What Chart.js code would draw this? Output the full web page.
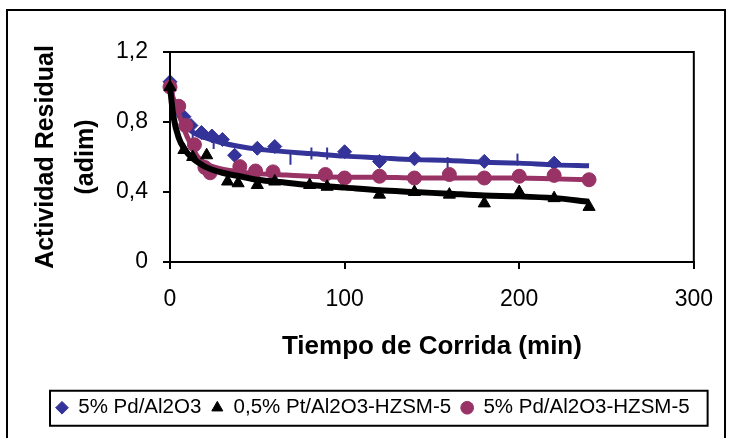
<!DOCTYPE html>
<html>
<head>
<meta charset="utf-8">
<script src="https://cdn.jsdelivr.net/npm/chart.js@4"></script>
<style>
  html, body { margin: 0; padding: 0; background: #fff; }
  canvas { display: block; }
</style>
</head>
<body>
<canvas id="chart" width="730" height="438"></canvas>
<script>
// Measured points (time in min, residual activity)
const blueTime = [0, 8, 12, 18, 24, 30, 37, 50, 60, 100, 120, 140, 180, 220];
const blueAct = [1.03, 0.83, 0.78, 0.74, 0.72, 0.70, 0.61, 0.65, 0.66, 0.63, 0.575, 0.59, 0.575, 0.565];

const blackTime = [0, 8, 13, 21, 33, 39, 50, 60, 80, 90, 120, 140, 160, 180, 200, 220, 240];
const blackAct = [1.0, 0.64, 0.60, 0.61, 0.46, 0.45, 0.44, 0.46, 0.44, 0.43, 0.385, 0.40, 0.385, 0.335, 0.40, 0.365, 0.315];

const maroonTime = [0, 5, 9, 14, 20, 23, 40, 49, 59, 89, 100, 120, 140, 160, 180, 200, 220, 240];
const maroonAct = [1.0, 0.89, 0.78, 0.67, 0.54, 0.51, 0.545, 0.52, 0.515, 0.50, 0.48, 0.49, 0.48, 0.50, 0.48, 0.49, 0.495, 0.47];

// Fitted curves
const fitTime = [0, 2, 5, 8, 12, 16, 20, 30, 40, 50, 60, 80, 100, 120, 140, 160, 180, 200, 220, 240];
const blueFit = [1.02, 0.92, 0.84, 0.79, 0.75, 0.725, 0.71, 0.68, 0.66, 0.645, 0.635, 0.62, 0.605, 0.595, 0.585, 0.58, 0.57, 0.565, 0.555, 0.55];
const blackFit = [1.0, 0.83, 0.71, 0.65, 0.60, 0.57, 0.545, 0.51, 0.49, 0.47, 0.46, 0.44, 0.425, 0.41, 0.40, 0.39, 0.38, 0.375, 0.365, 0.345];
const maroonFit = [1.0, 0.93, 0.85, 0.76, 0.67, 0.60, 0.565, 0.53, 0.515, 0.505, 0.50, 0.49, 0.485, 0.485, 0.48, 0.48, 0.48, 0.48, 0.475, 0.47];

// small vertical marks on the blue curve
const blueBarTime = [13, 25, 69, 81, 90, 159, 199];
const blueBarAct = [0.73, 0.68, 0.59, 0.62, 0.62, 0.565, 0.585];

const xTicks = [0, 100, 200, 300];
const yTicks = [0, 0.4, 0.8, 1.2];

const BLUE = '#333399';
const MAROON = '#993366';
const BLACK = '#000000';
const LEGEND_FONT = 20.5;

const pts = (xs, ys) => xs.map((x, i) => ({ x: x, y: ys[i] }));

Chart.defaults.font.family = "'Liberation Sans', Arial, sans-serif";
Chart.defaults.color = '#000';

const framePlugin = {
    id: 'frame',
    beforeDraw(chart) {
        const ctx = chart.ctx;
        ctx.save();
        ctx.fillStyle = '#fff';
        ctx.fillRect(0, 0, chart.width, chart.height);
        ctx.strokeStyle = '#000';
        ctx.lineWidth = 2;
        ctx.strokeRect(7, 10, 718, 440);
        ctx.restore();

        // move legend so it starts where the reference one does
        const lg = chart.legend;
        if (lg && lg.lineWidths) {
            const pad = lg.options.labels.padding;
            const lw = lg.lineWidths[0];
            const sx = (lg.left + pad + lg.right - lw) / 2;
            const dx = 56 - sx;
            lg.left += dx;
            lg.right += dx;
        }
    },
    afterDraw(chart) {
        const ctx = chart.ctx;
        const a = chart.chartArea;
        ctx.save();
        ctx.strokeStyle = '#000';
        ctx.lineWidth = 2;
        ctx.strokeRect(a.left, a.top, a.right - a.left, a.bottom - a.top);

        const lg = chart.legend;
        if (lg && lg.lineWidths) {
            const pad = lg.options.labels.padding;
            const lw = lg.lineWidths[0];
            const sx = (lg.left + pad + lg.right - lw) / 2;
            const cy = lg.top + pad + LEGEND_FONT / 2;
            ctx.strokeRect(sx - 6, cy - 17, lw - pad + 24, 35);
        }
        ctx.restore();
    }
};

new Chart(document.getElementById('chart'), {
    type: 'line',
    data: {
        datasets: [{
            label: '5% Pd/Al2O3',
            data: pts(blueTime, blueAct),
            showLine: false,
            pointStyle: 'rectRot',
            pointRadius: 7,
            backgroundColor: BLUE,
            borderColor: BLUE,
            borderWidth: 1,
            clip: false,
            order: 4
        }, {
            label: '0,5% Pt/Al2O3-HZSM-5',
            data: pts(blackTime, blackAct),
            showLine: false,
            pointStyle: 'triangle',
            pointRadius: 7,
            backgroundColor: BLACK,
            borderColor: BLACK,
            borderWidth: 1,
            clip: false,
            order: 1
        }, {
            label: '5% Pd/Al2O3-HZSM-5',
            data: pts(maroonTime, maroonAct),
            showLine: false,
            pointStyle: 'circle',
            pointRadius: 7,
            backgroundColor: MAROON,
            borderColor: MAROON,
            borderWidth: 1,
            clip: false,
            order: 2
        }, {
            label: 'fit black',
            data: pts(fitTime, blackFit),
            borderColor: BLACK,
            borderWidth: 6,
            pointRadius: 0,
            cubicInterpolationMode: 'monotone',
            clip: false,
            order: 0
        }, {
            label: 'fit maroon',
            data: pts(fitTime, maroonFit),
            borderColor: MAROON,
            borderWidth: 5,
            pointRadius: 0,
            cubicInterpolationMode: 'monotone',
            clip: false,
            order: 3
        }, {
            label: 'fit blue',
            data: pts(fitTime, blueFit),
            borderColor: BLUE,
            borderWidth: 5,
            pointRadius: 0,
            cubicInterpolationMode: 'monotone',
            clip: false,
            order: 5
        }, {
            label: 'marks blue',
            data: pts(blueBarTime, blueBarAct),
            showLine: false,
            pointStyle: 'line',
            rotation: 90,
            pointRadius: 6,
            borderColor: BLUE,
            borderWidth: 2,
            clip: false,
            order: 6
        }]
    },
    options: {
        responsive: false,
        animation: false,
        devicePixelRatio: 1,
        layout: { padding: { left: 8, right: 33, top: 52, bottom: 10 } },
        plugins: {
            tooltip: { enabled: false },
            legend: {
                position: 'bottom',
                labels: {
                    usePointStyle: true,
                    boxWidth: 12,
                    boxHeight: 9,
                    padding: 10,
                    color: '#000',
                    font: { size: LEGEND_FONT },
                    filter: item => item.datasetIndex < 3,
                    sort: (a, b) => a.datasetIndex - b.datasetIndex
                }
            }
        },
        scales: {
            x: {
                type: 'linear',
                min: xTicks[0],
                max: xTicks[xTicks.length - 1],
                afterBuildTicks: s => { s.ticks = xTicks.map(v => ({ value: v })); },
                afterFit: s => { s.height = 125.5; },
                grid: { drawOnChartArea: false, tickLength: 7, color: '#000', lineWidth: 2 },
                border: { color: '#000', width: 2 },
                ticks: { padding: 17, font: { size: 23 }, color: '#000' },
                title: {
                    display: true,
                    text: 'Tiempo de Corrida (min)',
                    font: { size: 26, weight: 'bold' },
                    color: '#000',
                    padding: { top: 0, bottom: 25.5 }
                }
            },
            y: {
                min: yTicks[0],
                max: yTicks[yTicks.length - 1],
                afterBuildTicks: s => { s.ticks = yTicks.map(v => ({ value: v })); },
                afterFit: s => { s.width = 162; },
                grid: { drawOnChartArea: false, tickLength: 7, color: '#000', lineWidth: 2 },
                border: { color: '#000', width: 2 },
                ticks: {
                    padding: 15,
                    font: { size: 23 },
                    color: '#000',
                    callback: v => v === 0 ? '0' : v.toFixed(1).replace('.', ',')
                },
                title: {
                    display: true,
                    text: ['Actividad Residual', '(adim)'],
                    font: { size: 25, weight: 'bold', lineHeight: 1.6 },
                    color: '#000',
                    padding: { top: 18, bottom: 0 }
                }
            }
        }
    },
    plugins: [framePlugin]
});
</script>
</body>
</html>
